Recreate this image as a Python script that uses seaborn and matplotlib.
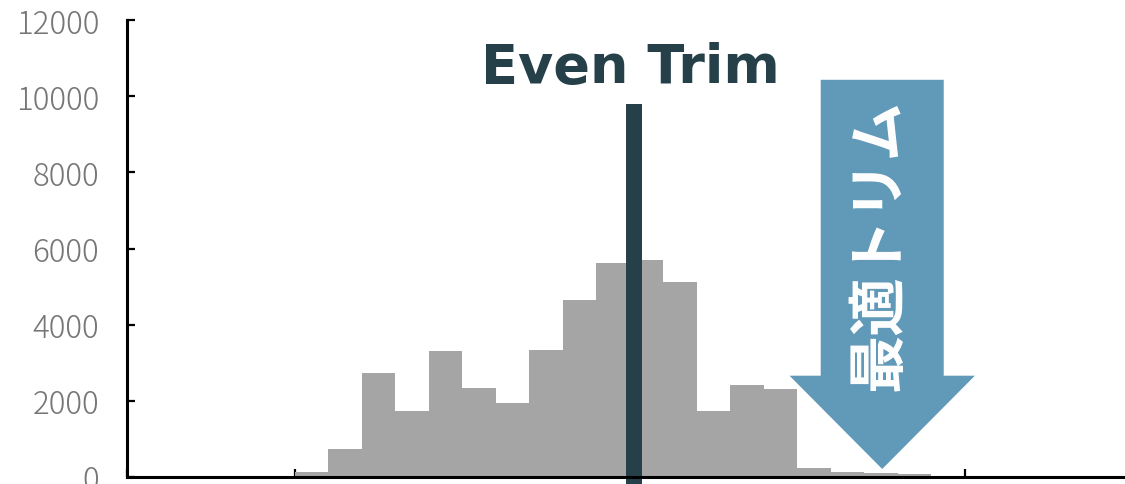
import numpy as np
import matplotlib
matplotlib.use("Agg")
import matplotlib.pyplot as plt
from matplotlib.patches import FancyArrow
import seaborn as sns

# Histogram of trim values: bin edges and counts per bin
bin_edges = list(range(5, 26))
counts = [120, 740, 2730, 1745, 3310, 2330, 1945, 3325, 4645, 5610,
          5695, 5110, 1735, 2415, 2320, 235, 120, 115, 75, 15]
even_trim = 15.13          # position of the "Even Trim" marker
optimal_trim = 22.53       # position of the optimal-trim arrow
y_ticks = [0, 2000, 4000, 6000, 8000, 10000, 12000]
x_ticks = [0, 5, 10, 15, 20, 25, 30]

sns.set_style("ticks")
plt.rcParams["font.family"] = ["Noto Sans CJK JP", "DejaVu Sans"]

BAR = "#A5A5A5"
DARK = "#26404A"
BLUE = "#6199B9"
TICK = "#767676"

fig = plt.figure(figsize=(11.25, 4.85), dpi=100)
ax = fig.add_axes([127 / 1125, 7 / 485, 1005.6 / 1125, 457 / 485])

centers = [(a + b) / 2 for a, b in zip(bin_edges[:-1], bin_edges[1:])]
sns.histplot(x=centers, weights=counts, bins=bin_edges, color=BAR,
             alpha=1.0, linewidth=0, ax=ax, zorder=2)

ax.set_xlim(0, 30)
ax.set_ylim(0, 12000)
ax.set_xticks(x_ticks)
ax.set_xticklabels([])
ax.set_yticks(y_ticks)
ax.set_yticklabels([str(v) for v in y_ticks])
ax.set_xlabel("")
ax.set_ylabel("")

for side in ("top", "right"):
    ax.spines[side].set_visible(False)
for side in ("left", "bottom"):
    ax.spines[side].set_linewidth(2.2)
    ax.spines[side].set_color("black")
    ax.spines[side].set_zorder(5)

ax.tick_params(axis="both", direction="in", length=6, width=1.6, color="black")
ax.tick_params(axis="y", labelsize=22.5, labelcolor=TICK, pad=20)
for lab in ax.get_yticklabels():
    lab.set_fontweight("light")

# Even Trim marker line and label
ax.plot([even_trim, even_trim], [-400, 9790], color=DARK, lw=11.5,
        solid_capstyle="butt", clip_on=False, zorder=4)
ax.text(15.02, 10372, "Even Trim", color=DARK, fontsize=39,
        fontweight="bold", family=["DejaVu Sans"],
        ha="center", va="baseline", zorder=6)

# Optimal trim arrow
arrow = FancyArrow(optimal_trim, 10430, 0, -(10430 - 210), width=3.67,
                   head_width=5.53, head_length=2450,
                   length_includes_head=True, color=BLUE, lw=0, zorder=4)
ax.add_patch(arrow)
ax.text(22.46, 6118, "最適トリム", color="white", fontsize=42,
        fontweight="bold", rotation=90, ha="center", va="center", zorder=6)

fig.savefig("out.png", dpi=100)
